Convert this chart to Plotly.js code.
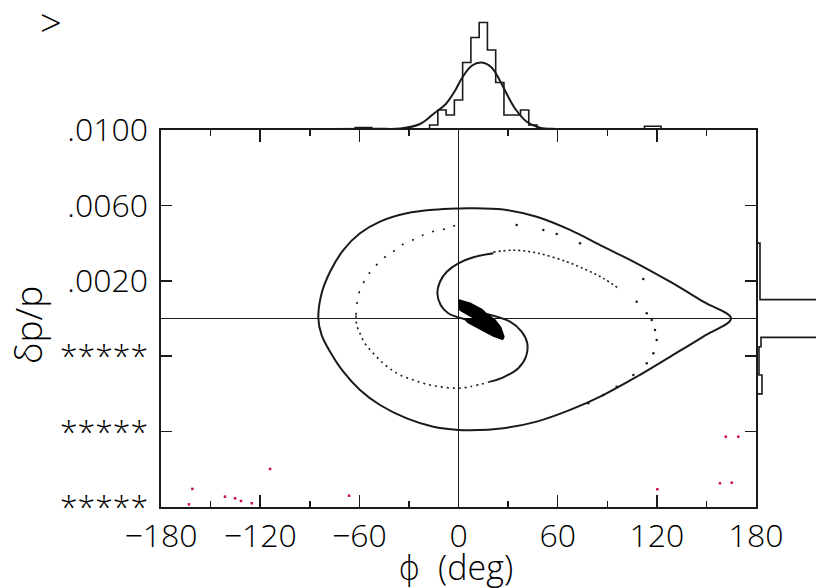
<!DOCTYPE html>
<html>
<head>
<meta charset="utf-8">
<script src="https://cdn.plot.ly/plotly-3.0.1.min.js"></script>
<style>html,body{margin:0;padding:0;background:#fff;}#chart{width:816px;height:588px;}</style>
</head>
<body>
<div id="chart"></div>
<script>
// ---- top histogram (phase projection), bin centres in degrees ----
const topBinCenters = [-65,-60,-55,-50,-45,-40,-35,-30,-25,-20,-15,-10,-5,0,5,10,15,20,25,30,35,40,45,50,55,60,65,70,75,80,85,90,95,100,105,110,115,120,125];
const topBinCounts  = [0,1,1,0,0,0,0,0,0,0,2,8,6,12,27,37,43,32,19,6,6,8,2,0,0,0,0,0,0,0,0,0,0,0,0,0,1.5,1.5,0];
// fitted curve
const fitPhi   = [-180,-120,-80,-50,-35,-23.3,-15.2,-7.7,-2.1,2.3,8,14,20,25.1,29.2,34.2,41.3,49.3,59.4,90,130,180];
const fitCount = [0.3,0.4,0.4,0.5,0.6,2.4,6.4,10.4,15.7,21,25.7,27,25,19.7,14.4,8.6,3.3,0.9,0.4,0.3,0.3,0.3];

// ---- right histogram (momentum projection) ----
const rightBinCenters = [0.00525,0.00475,0.00425,0.00375,0.00325,0.00275,0.00225,0.00175,0.00125,0.00075,0.00025,-0.00025,-0.00075,-0.00125,-0.00175,-0.00225,-0.00275,-0.00325,-0.00375,-0.00425];
const rightBinCounts  = [0,0.7,0.7,4,4,4,4,4,4,200,200,200,200,5,3,3,3,6,6,0];

// ---- separatrix ----
const sepPhi = [164.9,148.1,128,107.8,87.6,67.5,47.3,27.1,7,0,-15.2,-31.3,-47.5,-59.6,-69.7,-77.7,-82.8,-84.8,-82.8,-77.7,-69.7,-59.6,-47.5,-31.3,-15.2,0,7,27.1,47.3,67.5,87.6,107.8,128,148.1,164.9];
const sepDp  = [0,0.00089,0.00195,0.00293,0.00381,0.0047,0.0054,0.00578,0.00585,0.00584,0.00577,0.00558,0.00514,0.00452,0.00363,0.00248,0.00134,0,-0.00088,-0.00176,-0.00282,-0.00379,-0.00459,-0.0053,-0.00574,-0.00591,-0.00593,-0.00582,-0.00547,-0.00485,-0.00406,-0.00309,-0.00203,-0.00096,0];

// ---- inner filament (arm A) ----
const armAPhi = [3.9,-6.2,-10.8,-12.8,-11.2,-7.1,-0.1,9,21.1];
const armADp  = [-0.00004,0.00028,0.00072,0.00134,0.00195,0.00248,0.00293,0.00325,0.00346];
const armADotPhi = [21.1,33.2,47.3,65.5,77.6,87.6,97.7];
const armADotDp  = [0.00352,0.00362,0.00348,0.00301,0.00257,0.00213,0.00155];
const armASparsePhi = [107.8,113.9,116.9,118.9,119.9,117.9,113.9,105.8,95.7,87.6,78.5];
const armASparseDp  = [0.00089,0.00028,-0.00008,-0.00061,-0.00114,-0.00185,-0.00238,-0.003,-0.00362,-0.00406,-0.0045];

// ---- outer filament (arm B) ----
const armBPhi = [17.1,31.2,38.2,41.6,40.8,36.2,27.1,19.1];
const armBDp  = [0.00024,-0.00017,-0.0007,-0.00132,-0.00203,-0.00264,-0.00312,-0.00335];
const armBLowPhi = [19.1,7,-1.1,-11.2,-19.2,-27.3,-35.4,-40.4,-45.5,-51.5,-56.6,-59.6,-61.6,-62];
const armBLowDp  = [-0.00335,-0.00362,-0.0037,-0.00362,-0.00349,-0.00326,-0.003,-0.00273,-0.00238,-0.00185,-0.00132,-0.00079,-0.00034,0.00019];
const armBUpPhi = [-62,-61.6,-60.6,-57.6,-55.5,-51.5,-45.5,-40.4,-34.4,-25.3,-19.2,-7.1,-1.1];
const armBUpDp  = [0.00019,0.00063,0.00125,0.00187,0.00222,0.00266,0.00319,0.00349,0.0039,0.00425,0.00452,0.00478,0.00496];
const armBSparsePhi = [35.2,51.3,59.4,73.5,111.8];
const armBSparseDp  = [0.00496,0.0047,0.00448,0.00399,0.0021];

// ---- dense core ----
const corePhi = [0.3,7,14,17.1,22.1,25.5,27.5,26.7,21.1,13,5.9,3.9,10,5.9,0.9,0.3];
const coreDp  = [0.00098,0.00081,0.00049,0.00024,-0.00008,-0.00047,-0.00097,-0.0011,-0.00093,-0.00057,-0.00022,-0.00004,-0.00001,0.00019,0.00045,0.00098];

// ---- lost particles (red) ----
const lostPhi = [-161,-163.1,-141.3,-135.2,-131.6,-125.1,-114,-66.2,120.3,158.2,165.3,161.7,169.3];
const lostDp  = [-0.00904,-0.00986,-0.00945,-0.00954,-0.00968,-0.0098,-0.00798,-0.0094,-0.00906,-0.00874,-0.00871,-0.00627,-0.00627];

// ---- axis ticks ----
const xTickVals = [-180,-120,-60,0,60,120,180];
const yTickVals = [0.01,0.006,0.002,-0.002,-0.006,-0.01];
const yTickText = ['.0100','.0060','.0020','*****','*****','*****'];

const INK = '#1a1a1a';
const FAM = 'Open Sans, DejaVu Sans, sans-serif';
const FONT = {family: FAM, size: 32, color: '#000', weight: 300};
const TFONT = {family: FAM, size: 34, color: '#000', weight: 300};

const traces = [
  {x: topBinCenters, y: topBinCounts, xaxis: 'x2', yaxis: 'y2', mode: 'lines', line: {shape: 'hvh', color: INK, width: 1.6}, hoverinfo: 'skip'},
  {x: fitPhi, y: fitCount, xaxis: 'x2', yaxis: 'y2', mode: 'lines', line: {shape: 'spline', color: INK, width: 2}, hoverinfo: 'skip'},
  {x: rightBinCounts, y: rightBinCenters, xaxis: 'x3', yaxis: 'y3', mode: 'lines', line: {shape: 'vhv', color: INK, width: 1.6}, hoverinfo: 'skip'},
  {x: sepPhi, y: sepDp, mode: 'lines', line: {shape: 'spline', color: INK, width: 2}},
  {x: armAPhi, y: armADp, mode: 'lines', line: {shape: 'spline', color: INK, width: 2}},
  {x: armADotPhi, y: armADotDp, mode: 'lines', line: {shape: 'spline', color: INK, width: 1.6, dash: '2px,3px'}},
  {x: armASparsePhi, y: armASparseDp, mode: 'markers', marker: {color: INK, size: 2.5}},
  {x: armBPhi, y: armBDp, mode: 'lines', line: {shape: 'spline', color: INK, width: 2}},
  {x: armBLowPhi, y: armBLowDp, mode: 'lines', line: {shape: 'spline', color: INK, width: 1.6, dash: '2px,4px'}},
  {x: armBUpPhi, y: armBUpDp, mode: 'lines', line: {shape: 'spline', color: INK, width: 1.6, dash: '2px,9px'}},
  {x: armBSparsePhi, y: armBSparseDp, mode: 'markers', marker: {color: INK, size: 2.5}},
  {x: corePhi, y: coreDp, mode: 'lines', fill: 'toself', fillcolor: '#000', line: {color: '#000', width: 1.5}},
  {x: lostPhi, y: lostDp, mode: 'markers', marker: {color: '#c4123a', size: 2.5, symbol: 'square'}}
];

const XD = 595/655, YD = 377/507;
const layout = {
  width: 816, height: 588,
  margin: {l: 161, r: 0, t: 0, b: 81, pad: 0},
  paper_bgcolor: '#fff', plot_bgcolor: '#fff',
  showlegend: false,
  font: FONT,
  xaxis: {
    domain: [0, XD], anchor: 'y', range: [-180, 180],
    tickvals: xTickVals, ticks: 'inside', ticklen: 12, tickwidth: 1.5, tickcolor: INK,
    minor: {dtick: 30, tick0: 0, ticks: 'inside', ticklen: 6, tickwidth: 1.5, tickcolor: INK, showgrid: false},
    showline: true, linecolor: INK, linewidth: 1.6, mirror: 'ticks',
    zeroline: true, zerolinecolor: INK, zerolinewidth: 1.5,
    showgrid: false, tickfont: FONT, ticklabelstandoff: 0
  },
  yaxis: {
    domain: [0, YD], anchor: 'x', range: [-0.01, 0.01],
    tickvals: yTickVals, ticktext: yTickText, ticks: 'inside', ticklen: 11, tickwidth: 1.5, tickcolor: INK,
    showline: true, linecolor: INK, linewidth: 1.6, mirror: 'ticks',
    zeroline: true, zerolinecolor: INK, zerolinewidth: 1.5,
    showgrid: false, tickfont: FONT, ticklabelstandoff: 5
  },
  xaxis2: {domain: [0, XD], anchor: 'y2', range: [-180, 180], visible: false, fixedrange: true},
  yaxis2: {domain: [YD, 1], anchor: 'x2', range: [0, 52], visible: false, fixedrange: true},
  xaxis3: {domain: [XD, 1], anchor: 'y3', range: [0, 60], visible: false, fixedrange: true},
  yaxis3: {domain: [0, YD], anchor: 'x3', range: [-0.01, 0.01], visible: false, fixedrange: true},
  annotations: [
    {text: '&gt;', xref: 'paper', yref: 'paper', x: (51-161)/655, y: (507-22)/507, xanchor: 'center', yanchor: 'middle', textangle: 0, showarrow: false, font: {family: FAM, size: 38, color: '#000', weight: 300}},
    {text: 'ϕ  (deg)', xref: 'paper', yref: 'paper', x: (455-161)/655, y: (507-567)/507, xanchor: 'center', yanchor: 'middle', showarrow: false, font: TFONT},
    {text: 'δp/p', xref: 'paper', yref: 'paper', x: (28-161)/655, y: (507-325)/507, xanchor: 'center', yanchor: 'middle', textangle: -90, showarrow: false, font: {family: FAM, size: 37, color: '#000', weight: 300}}
  ]
};

Plotly.newPlot('chart', traces, layout, {staticPlot: true, displayModeBar: false});
</script>
</body>
</html>
